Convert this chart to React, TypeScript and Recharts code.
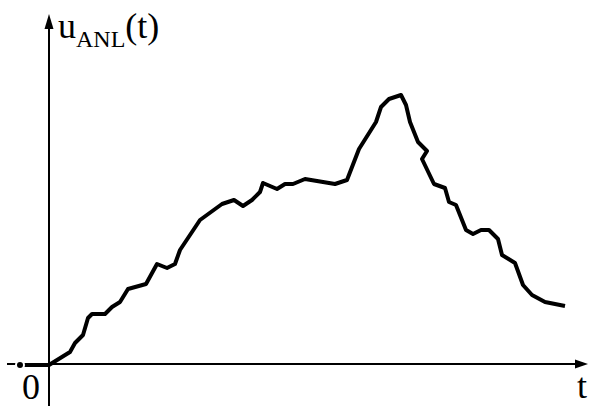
import React from "react";
import { LineChart, Line, XAxis, YAxis, ReferenceLine } from "recharts";

const tValues = [-2.9, 0, 2.1, 2.6, 3.4, 3.9, 4.3, 5.6, 6.3, 7.1, 7.9, 9.7, 10.8, 11.8, 12.6, 13.1, 15.1, 17.3, 18.5, 19.4, 20.3, 21.1, 21.4, 22.8, 23.6, 24.4, 25.6, 28.6, 29.8, 31.0, 32.7, 33.2, 34.0, 35.2, 35.7, 36.1, 36.9, 37.8, 37.3, 38.5, 39.6, 40.0, 40.7, 41.7, 42.4, 43.2, 44.0, 44.9, 45.3, 46.6, 47.4, 48.3, 49.6, 51.6];
const uValues = [-0.1, -0.1, 1.2, 2.1, 2.9, 4.6, 5.0, 5.0, 5.7, 6.2, 7.5, 8.0, 10.0, 9.6, 10.0, 11.4, 14.4, 16.0, 16.4, 15.8, 16.4, 17.2, 18.1, 17.5, 18.0, 18.0, 18.5, 18.0, 18.4, 21.5, 24.2, 25.7, 26.5, 26.9, 25.9, 24.2, 22.2, 21.3, 20.5, 18.0, 17.6, 16.2, 15.9, 13.4, 13.0, 13.4, 13.4, 12.5, 10.9, 10.1, 7.9, 6.9, 6.2, 5.8];

const yLabelMain = "u";
const yLabelSub = "ANL";
const yLabelTail = "(t)";
const originLabel = "0";
const xLabel = "t";

const tDomain: [number, number] = [-4.9, 54.0];
const uDomain: [number, number] = [-4.2, 36.4];
const xAxisSpan: [number, number] = [-4.2, 53.9];
const yAxisSpan: [number, number] = [-4.2, 35.0];

const data = tValues.map((t, i) => ({ t, u: uValues[i] }));

const FONT = "Liberation Serif";

const XAxisShape = (props: any) => {
  const { x1, y1, x2, y2 } = props;
  return (
    <g>
      <line x1={x1} y1={y1} x2={x2 - 8} y2={y2} stroke="#000" strokeWidth={2} />
      <polygon points={`${x2},${y2} ${x2 - 13},${y2 - 4.5} ${x2 - 13},${y2 + 4.5}`} fill="#000" />
      <text x={22} y={399} fontFamily={FONT} fontSize={36} fill="#000">{originLabel}</text>
      <text x={577} y={398} fontFamily={FONT} fontSize={36} fill="#000">{xLabel}</text>
    </g>
  );
};

const YAxisShape = (props: any) => {
  const { x1, y1, x2, y2 } = props;
  const top = Math.min(y1, y2);
  const bottom = Math.max(y1, y2);
  return (
    <g>
      <line x1={x1} y1={bottom} x2={x2} y2={top + 8} stroke="#000" strokeWidth={2} />
      <polygon points={`${x1},${top} ${x1 - 4.5},${top + 15} ${x1 + 4.5},${top + 15}`} fill="#000" />
      <text x={x1 + 9} y={38} fontFamily={FONT} fontSize={36} fill="#000">
        {yLabelMain}
        <tspan fontSize={24} dy={9}>{yLabelSub}</tspan>
        <tspan dy={-9}>{yLabelTail}</tspan>
      </text>
    </g>
  );
};

export default function App() {
  return (
    <div style={{ position: "absolute", left: 0, top: 0, width: 589, height: 406, background: "#fff" }}>
      <LineChart width={589} height={406} data={data} margin={{ top: 0, right: 0, bottom: 0, left: 0 }}>
        <XAxis type="number" dataKey="t" domain={tDomain} hide allowDataOverflow />
        <YAxis type="number" domain={uDomain} hide allowDataOverflow />
        <ReferenceLine
          segment={[{ x: xAxisSpan[0], y: 0 }, { x: xAxisSpan[1], y: 0 }]}
          shape={XAxisShape}
          ifOverflow="visible"
        />
        <ReferenceLine
          segment={[{ x: 0, y: yAxisSpan[0] }, { x: 0, y: yAxisSpan[1] }]}
          shape={YAxisShape}
          ifOverflow="visible"
        />
        <Line
          type="linear"
          dataKey="u"
          stroke="#000"
          strokeWidth={4}
          dot={false}
          strokeLinejoin="round"
          isAnimationActive={false}
        />
      </LineChart>
    </div>
  );
}
